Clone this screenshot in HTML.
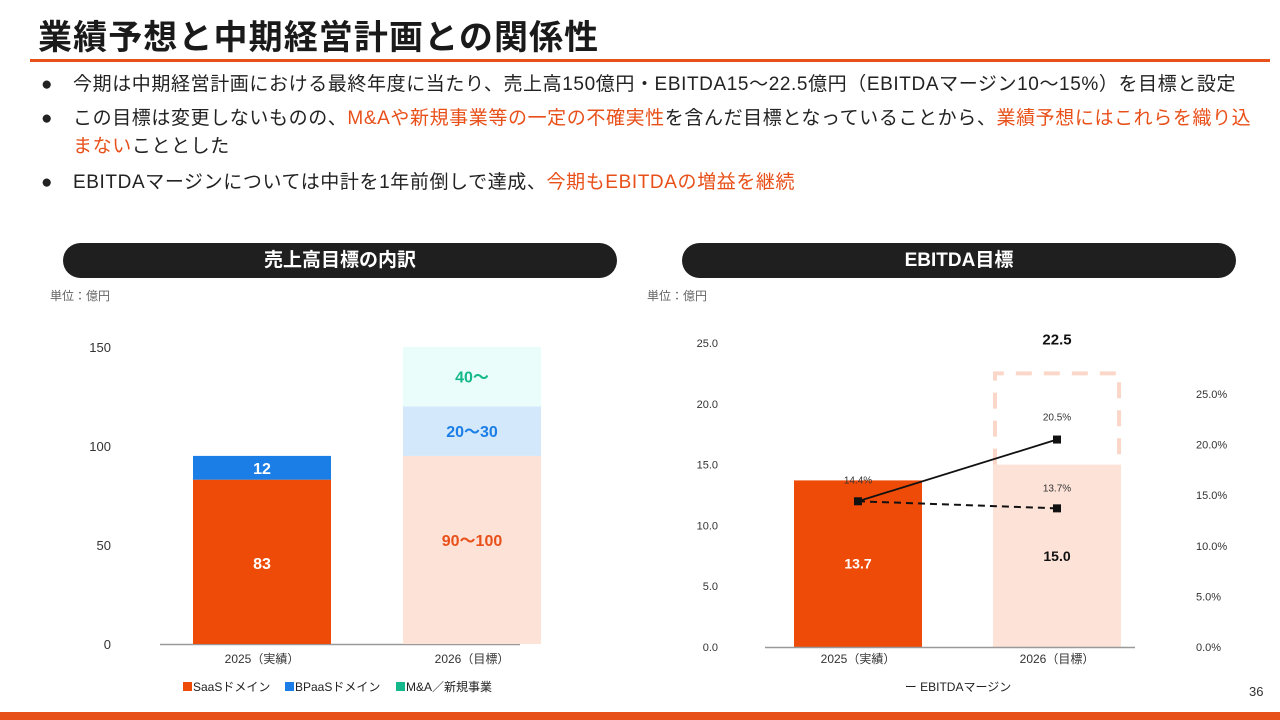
<!DOCTYPE html>
<html><head><meta charset="utf-8">
<style>
body{margin:0;width:1280px;height:720px;overflow:hidden;background:#fff;font-family:"Liberation Sans","Noto Sans CJK JP",sans-serif;position:relative;color:#222}
.abs{position:absolute}
.title{left:38px;top:10px;font-size:34px;font-weight:bold;color:#1a1a1a;letter-spacing:1.1px}
.rule{left:30px;top:59px;width:1240px;height:3px;background:#e8501a}
.b{font-size:19px;color:#222;line-height:28px;letter-spacing:0.6px;white-space:nowrap}
.o{color:#e8501a}
.dot{position:absolute;left:-32px}
.pill{height:35px;background:#1f1f1f;border-radius:18px;color:#fff;font-weight:bold;font-size:19px;text-align:center;line-height:35px}
.unit{font-size:12px;color:#666}
.foot{left:0;top:712px;width:1280px;height:8px;background:#e8501a}
</style></head><body>
<div class="abs title">業績予想と中期経営計画との関係性</div>
<div class="abs rule"></div>
<div class="abs b" style="left:73px;top:71px"><span class="dot">●</span>今期は中期経営計画における最終年度に当たり、売上高150億円・EBITDA15〜22.5億円（EBITDAマージン10〜15%）を目標と設定</div>
<div class="abs b" style="left:73px;top:105px"><span class="dot">●</span>この目標は変更しないものの、<span class="o">M&amp;Aや新規事業等の一定の不確実性</span>を含んだ目標となっていることから、<span class="o">業績予想にはこれらを織り込</span><br><span class="o">まない</span>こととした</div>
<div class="abs b" style="left:73px;top:169px"><span class="dot">●</span>EBITDAマージンについては中計を1年前倒しで達成、<span class="o">今期もEBITDAの増益を継続</span></div>
<div class="abs pill" style="left:63px;top:243px;width:554px">売上高目標の内訳</div>
<div class="abs pill" style="left:682px;top:243px;width:554px">EBITDA目標</div>
<div class="abs unit" style="left:50px;top:287px">単位：億円</div>
<div class="abs unit" style="left:647px;top:287px">単位：億円</div>
<svg class="abs" style="left:0;top:0" width="1280" height="720" id="svg"></svg>
<div class="abs" style="left:1249px;top:684px;font-size:13px;color:#333">36</div>
<div class="abs foot"></div>
<script>
// Left chart data
const salesCats = ["2025（実績）","2026（目標）"];
const saas = [83, 95];
const bpaas = [12, 25];
const ma = [0, 30];
const saasLabels = ["83","90〜100"];
const bpaasLabels = ["12","20〜30"];
const maLabels = ["","40〜"];
const salesTicks = [0,50,100,150];
// Right chart data
const ebitdaCats = ["2025（実績）","2026（目標）"];
const ebitda = [13.7, 15.0];
const ebitdaTarget = [null, 22.5];
const marginSolid = [14.4, 20.5];
const marginDashed = [14.4, 13.7];
const ebitdaTicks = [0,5,10,15,20,25];
const marginTicks = [0,5,10,15,20,25];

const NS="http://www.w3.org/2000/svg";
const svg=document.getElementById('svg');
function mk(tag,attrs,name,txt){const e=document.createElementNS(NS,tag);for(const k in attrs)e.setAttribute(k,attrs[k]);


if(txt!==undefined)e.textContent=txt;svg.appendChild(e);return e;}
const F='"Liberation Sans","Noto Sans CJK JP",sans-serif';

// Left chart axes
const ly=v=>644-v*(297/150);
const lx=[262,472], lw=138;
salesTicks.forEach(t=>mk('text',{x:111,y:ly(t)+5,'text-anchor':'end','font-size':13,fill:'#333','font-family':F},'sales-y-tick',String(t)));
mk('line',{x1:160,y1:644.5,x2:520,y2:644.5,stroke:'#999','stroke-width':1.5},'sales-x-axis');
salesCats.forEach((c,i)=>{
  const x0=lx[i]-lw/2;
  const c1=i==0?'#ee4b08':'#fde2d8', c2=i==0?'#1a7ee6':'#d3e8fb', c3='#eafdfb';
  mk('rect',{x:x0,y:ly(saas[i]),width:lw,height:ly(0)-ly(saas[i]),fill:c1},'bar-saas-'+i);
  mk('rect',{x:x0,y:ly(saas[i]+bpaas[i]),width:lw,height:ly(saas[i])-ly(saas[i]+bpaas[i]),fill:c2},'bar-bpaas-'+i);
  if(ma[i]>0)mk('rect',{x:x0,y:ly(saas[i]+bpaas[i]+ma[i]),width:lw,height:ly(saas[i]+bpaas[i])-ly(saas[i]+bpaas[i]+ma[i]),fill:c3},'bar-ma-'+i);
  mk('text',{x:lx[i],y:(ly(0)+ly(saas[i]))/2+(i==0?7:-4),'text-anchor':'middle','font-size':16,'font-weight':'bold',fill:i==0?'#fff':'#e8501a','font-family':F},'label-saas-'+i,saasLabels[i]);
  mk('text',{x:lx[i],y:(ly(saas[i])+ly(saas[i]+bpaas[i]))/2+6,'text-anchor':'middle','font-size':16,'font-weight':'bold',fill:i==0?'#fff':'#1a7ee6','font-family':F},'label-bpaas-'+i,bpaasLabels[i]);
  if(maLabels[i])mk('text',{x:lx[i],y:(ly(saas[i]+bpaas[i])+ly(saas[i]+bpaas[i]+ma[i]))/2+6,'text-anchor':'middle','font-size':16,'font-weight':'bold',fill:'#14b88a','font-family':F},'label-ma-'+i,maLabels[i]);
  mk('text',{x:lx[i],y:663,'text-anchor':'middle','font-size':12,fill:'#333','font-family':F},'sales-x-label',c);
});
// legend left
[['#ee4b08','SaaSドメイン',183],['#1a7ee6','BPaaSドメイン',285],['#14b88a','M&A／新規事業',396]].forEach(l=>{
  mk('rect',{x:l[2],y:682,width:9,height:9,fill:l[0]},'legend-swatch');
  mk('text',{x:l[2]+10,y:691,'font-size':12,fill:'#222','font-family':F},'legend-entry',l[1]);
});

// Right chart
const ry=v=>647-v*(304/25);
const my=v=>647-v*(253/25);
const rx=[858,1057], rw=128;
ebitdaTicks.forEach(t=>mk('text',{x:718,y:ry(t)+4,'text-anchor':'end','font-size':11,fill:'#333','font-family':F},'ebitda-y-tick',t.toFixed(1)));
marginTicks.forEach(t=>mk('text',{x:1196,y:my(t)+4,'font-size':11,fill:'#333','font-family':F},'margin-y-tick',t.toFixed(1)+'%'));
ebitdaCats.forEach((c,i)=>{
  const x0=rx[i]-rw/2;
  mk('rect',{x:x0,y:ry(ebitda[i]),width:rw,height:ry(0)-ry(ebitda[i]),fill:i==0?'#ee4b08':'#fde2d8'},'bar-ebitda-'+i);
  if(ebitdaTarget[i]!==null){
    mk('path',{d:`M${x0+2},${ry(ebitda[i])} V${ry(ebitdaTarget[i])} H${x0+rw-2} V${ry(ebitda[i])}`,fill:'none',stroke:'#fbd7c9','stroke-width':4,'stroke-dasharray':'16,12'},'target-box');
    mk('text',{x:rx[i],y:ry(ebitdaTarget[i])-29,'text-anchor':'middle','font-size':15,'font-weight':'bold',fill:'#111','font-family':F},'target-label',String(ebitdaTarget[i]));
  }
  mk('text',{x:rx[i],y:(ry(0)+ry(ebitda[i]))/2+(i==0?5:5),'text-anchor':'middle','font-size':14,'font-weight':'bold',fill:i==0?'#fff':'#111','font-family':F},'ebitda-label-'+i,ebitda[i].toFixed(1));
  mk('text',{x:rx[i],y:663,'text-anchor':'middle','font-size':12,fill:'#333','font-family':F},'ebitda-x-label',c);
});
mk('line',{x1:765,y1:647.5,x2:1135,y2:647.5,stroke:'#999','stroke-width':1.5},'ebitda-x-axis');
mk('line',{x1:rx[0],y1:my(marginDashed[0]),x2:rx[1],y2:my(marginDashed[1]),stroke:'#111','stroke-width':2,'stroke-dasharray':'7,5'},'margin-dashed-line');
mk('line',{x1:rx[0],y1:my(marginSolid[0]),x2:rx[1],y2:my(marginSolid[1]),stroke:'#111','stroke-width':1.8},'margin-solid-line');
[[rx[0],marginSolid[0]],[rx[1],marginSolid[1]],[rx[1],marginDashed[1]]].forEach(p=>mk('rect',{x:p[0]-4,y:my(p[1])-4,width:8,height:8,fill:'#111'},'margin-point'));
mk('text',{x:rx[0],y:my(marginSolid[0])-18,'text-anchor':'middle','font-size':10,fill:'#333','font-family':F},'margin-label',marginSolid[0]+'%');
mk('text',{x:rx[1],y:my(marginSolid[1])-19,'text-anchor':'middle','font-size':10,fill:'#333','font-family':F},'margin-label',marginSolid[1]+'%');
mk('text',{x:rx[1],y:my(marginDashed[1])-17,'text-anchor':'middle','font-size':10,fill:'#333','font-family':F},'margin-label',marginDashed[1]+'%');
mk('text',{x:958,y:691,'text-anchor':'middle','font-size':12,fill:'#222','font-family':F},'legend-ebitda-margin','ー EBITDAマージン');
</script>
</body></html>
